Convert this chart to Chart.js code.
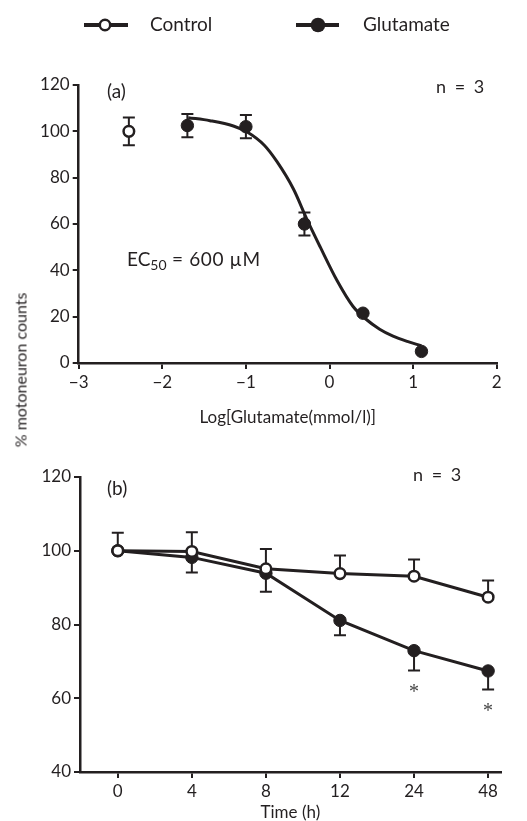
<!DOCTYPE html>
<html>
<head>
<meta charset="utf-8">
<script src="https://cdn.jsdelivr.net/npm/chart.js@4"></script>
<style>
  body { margin: 0; background: #fff; overflow: hidden; }
  #wrap { position: relative; width: 527px; height: 821px; overflow: hidden; }
  canvas { position: absolute; left: 0; }
  #chartA { top: 0; }
  #chartB { top: 420px; }
  #ytitle {
    position: absolute; left: 20px; top: 370px;
    transform: translate(-50%, -50%) rotate(-90deg);
    font: 16px Lato; color: #231f20; white-space: nowrap;
  }
</style>
</head>
<body>
<div id="wrap">
  <canvas id="chartA" width="527" height="440"></canvas>
  <canvas id="chartB" width="527" height="410"></canvas>
  <div id="ytitle">% motoneuron counts</div>
</div>
<script>
const ink = '#231f20';

// (a) concentration-response
const ctrlLogConc = [-2.4];
const ctrlCounts = [100];
const ctrlErr = [6];
const logConc = [-1.7, -1.0, -0.3, 0.4, 1.1];
const gluCounts = [102.5, 102, 60, 21.5, 5];
const gluErr = [5, 5, 5, 0, 0];
// fitted curve
const fitLogConc = [-1.69, -1.43, -1.15, -0.98, -0.78, -0.63, -0.43, -0.27, -0.11, 0.09, 0.28, 0.43, 0.6, 0.76, 0.93, 1.1];
const fitCounts = [105.9, 104.6, 102.3, 99.6, 94, 87, 75, 62, 50, 35.6, 24.5, 19.1, 14.6, 11.6, 9.3, 7.4];

// (b) time course
const hours = ['0', '4', '8', '12', '24', '48'];
const ctrlTime = [100, 99.8, 95.1, 93.8, 93.1, 87.4];
const ctrlTimeErr = [4.9, 5.2, 5.4, 4.9, 4.5, 4.5];
const gluTime = [100, 98.2, 93.9, 81.1, 72.9, 67.4];
const gluTimeErr = [0, 4.1, 5, 4, 5.4, 5];
const signif = ['', '', '', '', '*', '*'];

const tickFont = { family: 'Lato', size: 17 };

const errorBars = {
  id: 'errorBars',
  beforeDatasetsDraw(chart) {
    const ctx = chart.ctx;
    const ys = chart.scales.y;
    chart.data.datasets.forEach((ds, i) => {
      if (!ds.errUp && !ds.errDown) return;
      const meta = chart.getDatasetMeta(i);
      ctx.save();
      ctx.strokeStyle = ink;
      ctx.lineWidth = 2;
      meta.data.forEach((pt, j) => {
        const v = ds.data[j].y;
        const up = ds.errUp ? ds.errUp[j] : 0;
        const dn = ds.errDown ? ds.errDown[j] : 0;
        if (!up && !dn) return;
        const y1 = ys.getPixelForValue(v + up);
        const y2 = ys.getPixelForValue(v - dn);
        ctx.beginPath();
        ctx.moveTo(pt.x, y1);
        ctx.lineTo(pt.x, y2);
        if (up) { ctx.moveTo(pt.x - 6, y1); ctx.lineTo(pt.x + 6, y1); }
        if (dn) { ctx.moveTo(pt.x - 6, y2); ctx.lineTo(pt.x + 6, y2); }
        ctx.stroke();
      });
      ctx.restore();
    });
  }
};

function xyPoints(xs, ys) {
  return xs.map((x, i) => ({ x: x, y: ys[i] }));
}

function axisBase() {
  return {
    border: { display: true, color: ink, width: 2.5 },
    grid: { drawOnChartArea: false, drawTicks: true, tickLength: 6, color: ink, lineWidth: 2 },
    ticks: { color: ink, font: tickFont, padding: 3 }
  };
}

// legend and labels for panel (a)
const notesA = {
  id: 'notesA',
  afterDraw(chart) {
    const ctx = chart.ctx;
    ctx.save();
    ctx.strokeStyle = ink;
    ctx.fillStyle = ink;
    ctx.lineWidth = 4;
    // legend
    ctx.beginPath(); ctx.moveTo(84, 25); ctx.lineTo(128, 25); ctx.stroke();
    ctx.beginPath(); ctx.arc(105, 25, 5.2, 0, Math.PI * 2);
    ctx.fillStyle = '#fff'; ctx.fill(); ctx.lineWidth = 2.5; ctx.stroke();
    ctx.lineWidth = 4;
    ctx.beginPath(); ctx.moveTo(296, 25); ctx.lineTo(339, 25); ctx.stroke();
    ctx.fillStyle = ink;
    ctx.beginPath(); ctx.arc(318, 25, 7.3, 0, Math.PI * 2); ctx.fill();
    ctx.font = '19px Lato';
    ctx.textBaseline = 'middle';
    ctx.fillText('Control', 150, 25);
    ctx.fillText('Glutamate', 363, 25);

    ctx.font = '19px Lato';
    ctx.fillText('(a)', 107, 92);
    ctx.letterSpacing = '2px';
    ctx.font = '18px Lato';
    ctx.fillText('n = 3', 436, 87);
    ctx.letterSpacing = '0px';

    // EC50 label
    ctx.textBaseline = 'alphabetic';
    ctx.font = '19px Lato';
    ctx.fillText('EC', 127, 266);
    const w = ctx.measureText('EC').width;
    ctx.font = '14px Lato';
    ctx.fillText('50', 127 + w, 270);
    const w2 = ctx.measureText('50').width;
    ctx.font = '19px Lato';
    ctx.letterSpacing = '0.6px';
    ctx.fillText(' = 600 µM', 127 + w + w2, 266);
    ctx.restore();
  }
};

const notesB = {
  id: 'notesB',
  afterDraw(chart) {
    const ctx = chart.ctx;
    ctx.save();
    ctx.fillStyle = ink;
    ctx.textBaseline = 'middle';
    ctx.font = '19px Lato';
    ctx.fillText('(b)', 107, 69);
    ctx.letterSpacing = '2px';
    ctx.font = '18px Lato';
    ctx.fillText('n = 3', 413, 55);
    ctx.letterSpacing = '0px';

    // significance marks under the glutamate points
    const ds = chart.data.datasets[1];
    const meta = chart.getDatasetMeta(1);
    ctx.font = '20px "Liberation Serif"';
    ctx.fillStyle = '#444';
    ctx.textAlign = 'center';
    meta.data.forEach((pt, j) => {
      if (!signif[j]) return;
      const yb = chart.scales.y.getPixelForValue(ds.data[j].y - ds.errDown[j]);
      ctx.fillText(signif[j], pt.x, yb + 22);
    });
    ctx.restore();
  }
};

const xA = axisBase();
Object.assign(xA, {
  type: 'linear', min: -3, max: 2,
  afterFit(scale) { scale.height = 77; },
  title: { display: true, text: 'Log[Glutamate(mmol/l)]', color: ink, font: tickFont, padding: { top: 0, bottom: 12 } }
});
xA.ticks.stepSize = 1;
xA.ticks.callback = v => (v < 0 ? '\u2212' + Math.abs(v) : String(v));

const yA = axisBase();
Object.assign(yA, {
  min: 0, max: 120,
  afterFit(scale) { scale.width = 78.7; }
});
yA.ticks.stepSize = 20;

new Chart(document.getElementById('chartA'), {
  type: 'scatter',
  data: {
    datasets: [
      {
        label: 'Glutamate',
        data: xyPoints(logConc, gluCounts),
        errUp: gluErr, errDown: gluErr,
        pointRadius: 6.2, pointBackgroundColor: ink, pointBorderColor: ink, pointBorderWidth: 1
      },
      {
        label: 'Control',
        data: xyPoints(ctrlLogConc, ctrlCounts),
        errUp: ctrlErr, errDown: ctrlErr,
        pointRadius: 5.3, pointBackgroundColor: '#fff', pointBorderColor: ink, pointBorderWidth: 2.5
      },
      {
        label: 'Fit',
        data: xyPoints(fitLogConc, fitCounts),
        showLine: true, pointRadius: 0, borderColor: ink, borderWidth: 3,
        cubicInterpolationMode: 'monotone'
      }
    ]
  },
  options: {
    responsive: false,
    animation: false,
    layout: { padding: { top: 85, right: 30.3, bottom: 0, left: 0 } },
    plugins: { legend: { display: false }, tooltip: { enabled: false } },
    scales: { x: xA, y: yA }
  },
  plugins: [errorBars, notesA]
});

const xB = axisBase();
Object.assign(xB, {
  type: 'linear', min: -0.51, max: 5.17,
  afterBuildTicks(scale) { scale.ticks = hours.map((h, i) => ({ value: i })); },
  afterFit(scale) { scale.height = 58; },
  title: { display: true, text: 'Time (h)', color: ink, font: tickFont, padding: { top: 0, bottom: 7 } }
});
xB.ticks.callback = v => hours[v];

const yB = axisBase();
Object.assign(yB, {
  min: 40, max: 120,
  afterFit(scale) { scale.width = 80; }
});
yB.ticks.stepSize = 20;

new Chart(document.getElementById('chartB'), {
  type: 'line',
  data: {
    datasets: [
      {
        label: 'Control',
        data: xyPoints(hours.map((h, i) => i), ctrlTime),
        errUp: ctrlTimeErr,
        borderColor: ink, borderWidth: 3,
        pointRadius: 5.3, pointBackgroundColor: '#fff', pointBorderColor: ink, pointBorderWidth: 2.5
      },
      {
        label: 'Glutamate',
        data: xyPoints(hours.map((h, i) => i), gluTime),
        errDown: gluTimeErr,
        borderColor: ink, borderWidth: 3,
        pointRadius: 6.2, pointBackgroundColor: ink, pointBorderColor: ink, pointBorderWidth: 1
      }
    ]
  },
  options: {
    responsive: false,
    animation: false,
    layout: { padding: { top: 57, right: 26.3, bottom: 0, left: 0 } },
    plugins: { legend: { display: false }, tooltip: { enabled: false } },
    scales: { x: xB, y: yB }
  },
  plugins: [errorBars, notesB]
});
</script>
</body>
</html>
